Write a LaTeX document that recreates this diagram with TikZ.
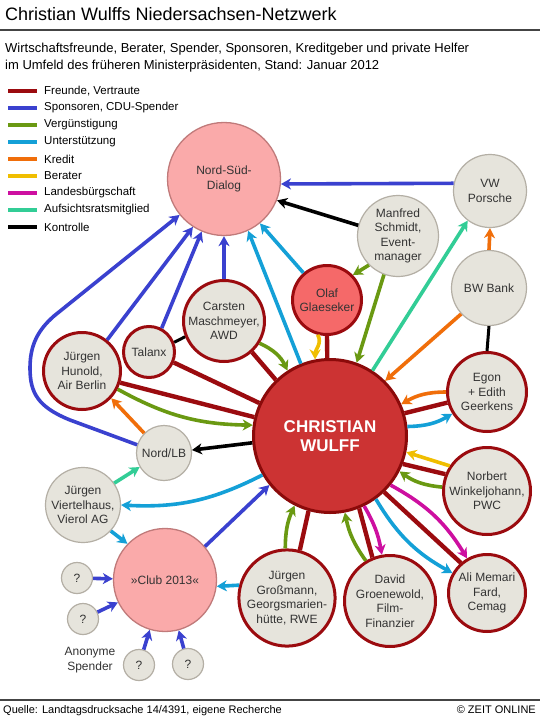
\documentclass[tikz,border=0pt]{standalone}
\usepackage{fontspec}
\setmainfont{Liberation Sans}
\usetikzlibrary{arrows.meta}
\definecolor{cFr}{HTML}{9B0B0F}
\definecolor{cBl}{HTML}{3A41CF}
\definecolor{cGr}{HTML}{6A9912}
\definecolor{cCy}{HTML}{14A0D7}
\definecolor{cOr}{HTML}{F06E0A}
\definecolor{cYe}{HTML}{F0BE00}
\definecolor{cMa}{HTML}{CD0FA0}
\definecolor{cTe}{HTML}{32CD96}
\definecolor{cBk}{HTML}{000000}
\definecolor{cGray}{HTML}{E6E4DC}
\definecolor{cGrayB}{HTML}{B4AFA5}
\definecolor{cPink}{HTML}{FAAAAA}
\definecolor{cPinkB}{HTML}{C07A7A}
\definecolor{cWulff}{HTML}{CC3333}
\definecolor{cWulffB}{HTML}{8B0A0A}
\definecolor{cOlaf}{HTML}{F56969}
\definecolor{cText}{HTML}{333333}
\definecolor{cRule}{HTML}{444444}
\begin{document}
\begin{tikzpicture}[x=1pt,y=1pt,
  nd/.style={circle,inner sep=0pt,align=center,font=\fontsize{12}{14.5}\selectfont,text=cText},
  gnode/.style={nd,fill=cGray,draw=cGrayB,line width=1.2pt},
  rnode/.style={nd,fill=cGray,draw=cFr,line width=3pt},
  pnode/.style={nd,fill=cPink,draw=cPinkB,line width=1.3pt},
  conn/.style={line width=3.6pt},
  arr/.style={conn,-{Stealth[length=10pt,width=11pt,inset=3pt]}},
  fr/.style={conn,cFr,line width=4.4pt},
  bl/.style={arr,cBl},
  gr/.style={arr,cGr},
  cy/.style={arr,cCy},
  ora/.style={arr,cOr},
  ye/.style={arr,cYe},
  ma/.style={arr,cMa},
  te/.style={arr,cTe},
  bk/.style={arr,cBk},
  lgline/.style={line width=4.5pt},
  lgtext/.style={anchor=west,font=\fontsize{11.5}{13}\selectfont,text=black,inner sep=0pt},
]
\useasboundingbox (0,0) rectangle (540,-720);
\fill[white] (0,0) rectangle (540,-720);

% title
\node[anchor=base west,inner sep=0pt,font=\fontsize{18}{20}\selectfont] (title) at (5,-20) {Christian Wulffs Niedersachsen-Netzwerk};
\draw[cRule,line width=1.2pt] (0,-30) -- (540,-30);
\node[anchor=base west,inner sep=0pt,font=\fontsize{13}{15}\selectfont] (sub1) at (5,-52) {Wirtschaftsfreunde, Berater, Spender, Sponsoren, Kreditgeber und private Helfer};
\node[anchor=base west,inner sep=0pt,font=\fontsize{13}{15}\selectfont] (sub2) at (5,-69) {im Umfeld des früheren Ministerpräsidenten, Stand: Januar 2012};

% legend
\draw[lgline,cFr] (8,-91) -- (37,-91);  \node[lgtext] (l1) at (44,-91) {Freunde, Vertraute};
\draw[lgline,cBl] (8,-108) -- (37,-108); \node[lgtext] (l2) at (44,-108) {Sponsoren, CDU-Spender};
\draw[lgline,cGr] (8,-125) -- (37,-125); \node[lgtext] (l3) at (44,-125) {Vergünstigung};
\draw[lgline,cCy] (8,-142) -- (37,-142); \node[lgtext] (l4) at (44,-142) {Unterstützung};
\draw[lgline,cOr] (8,-159) -- (37,-159); \node[lgtext] (l5) at (44,-159) {Kredit};
\draw[lgline,cYe] (8,-176) -- (37,-176); \node[lgtext] (l6) at (44,-176) {Berater};
\draw[lgline,cMa] (8,-193) -- (37,-193); \node[lgtext] (l7) at (44,-193) {Landesbürgschaft};
\draw[lgline,cTe] (8,-210) -- (37,-210); \node[lgtext] (l8) at (44,-210) {Aufsichtsratsmitglied};
\draw[lgline,cBk] (8,-227) -- (37,-227); \node[lgtext] (l9) at (44,-227) {Kontrolle};

% nodes
\node[pnode,minimum size=113pt] (nsd) at (224,-179) {Nord-Süd-\\Dialog};
\node[gnode,minimum size=73pt] (vw) at (490,-191) {VW\\Porsche};
\node[gnode,minimum size=81pt] (manfred) at (398,-236) {Manfred\\Schmidt,\\Event-\\manager};
\node[gnode,minimum size=75pt] (bw) at (489,-288) {BW Bank};
\node[rnode,fill=cOlaf,minimum size=69pt] (olaf) at (327,-300) {Olaf\\Glaeseker};
\node[rnode,minimum size=81pt] (masch) at (224,-321) {Carsten\\Maschmeyer,\\AWD};
\node[rnode,minimum size=51pt] (talanx) at (149,-352) {Talanx};
\node[rnode,minimum size=77pt] (hunold) at (82,-371) {Jürgen\\Hunold,\\Air Berlin};
\node[gnode,minimum size=55pt] (nordlb) at (164,-453) {Nord/LB};
\node[rnode,fill=cWulff,draw=cWulffB,minimum size=153pt,text=white,font=\bfseries\fontsize{17}{19}\selectfont] (wulff) at (330,-436) {CHRISTIAN\\WULFF};
\node[rnode,minimum size=79pt] (egon) at (487,-392) {Egon\\+ Edith\\Geerkens};
\node[rnode,minimum size=87pt] (norbert) at (487,-491) {Norbert\\Winkeljohann,\\PWC};
\node[rnode,minimum size=77pt] (ali) at (487,-593) {Ali Memari\\Fard,\\Cemag};
\node[rnode,minimum size=91pt] (david) at (390,-601) {David\\Groenewold,\\Film-\\Finanzier};
\node[rnode,minimum size=95pt] (gross) at (287,-598) {Jürgen\\Großmann,\\Georgsmarien-\\hütte, RWE};
\node[gnode,minimum size=75pt] (viertel) at (83,-505) {Jürgen\\Viertelhaus,\\Vierol AG};
\node[pnode,minimum size=103pt] (club) at (165,-580) {»Club 2013«};
\node[gnode,minimum size=31pt] (q1) at (77,-578) {?};
\node[gnode,minimum size=31pt] (q2) at (83,-619) {?};
\node[gnode,minimum size=31pt] (q3) at (139,-665) {?};
\node[gnode,minimum size=31pt] (q4) at (188,-664) {?};
\node[align=center,inner sep=0pt,font=\fontsize{12}{15}\selectfont,text=cText] (anon) at (90,-660) {Anonyme\\Spender};

% blue: sponsors
\draw[bl] (vw.168) -- (nsd.-5);
\draw[bl] (nordlb.163) -- (70,-420) .. controls (38,-407) and (30,-393) .. (30,-368) .. controls (30,-345) and (38,-330) .. (54,-316) -- (nsd.219);
\draw[bl] (hunold.51) -- (nsd.237);
\draw[bl] (talanx.62) -- (nsd.247);
\draw[bl] (masch.90) -- (nsd.270);
\draw[bl] (club.40) -- (wulff.219);
\draw[bl] (q1) -- (club);
\draw[bl] (q2) -- (club);
\draw[bl] (q3) -- (club);
\draw[bl] (q4) -- (club);

% cyan: support
\draw[cy] (wulff.112) -- (nsd.295);
\draw[cy] (olaf.131) -- (nsd.309);
\draw[cy] (wulff.-54) to[bend right=15] (ali.150);
\draw[cy] (wulff.7) to[bend right=15] (egon.212);
\draw[cy] (wulff.210) to[bend left=15] (viertel.0);
\draw[cy] (viertel.-43) -- (club.136);
\draw[cy] (gross.165) -- (club.-7);

% black: control
\draw[bk] (manfred.165) -- (nsd.-22);
\draw[bk] (wulff.185) -- (nordlb.6);
\draw[conn,cBk,line width=3pt] (talanx.21) -- (masch.202);
\draw[conn,cBk,line width=3pt] (bw.south) -- (egon.north);

% green
\draw[gr] (manfred.225) -- (olaf.44);
\draw[gr] (manfred.250) -- (wulff.70);
\draw[gr] (masch.-32) to[bend left=20] (wulff.123);
\draw[gr] (hunold.-27) to[bend right=14] (wulff.172);
\draw[gr] (norbert.175) to[bend left=15] (wulff.-27);
\draw[gr] (gross.92) to[bend left=12] (wulff.243);
\draw[gr] (david.121) to[bend left=12] (wulff.-79);

% orange
\draw[ora] (bw.north) -- (vw.south);
\draw[ora] (bw.223) -- (wulff.45);
\draw[ora] (egon.180) to[bend right=15] (wulff.24);
\draw[ora] (nordlb.135) -- (hunold.-43);

% yellow
\draw[ye] (olaf.255) to[out=-60,in=90] (wulff.101);
\draw[ye] (norbert.146) -- (wulff.-12);

% teal
\draw[te] (wulff.57) -- (vw.233);
\draw[te] (viertel.35) -- (nordlb.210);

% magenta
\draw[ma] (wulff.-64) to[bend left=10] (david.100);
\draw[ma] (wulff.-39) to[bend left=15] (ali.120);

% red: friends
\draw[fr] (olaf.south) -- (wulff.92);
\draw[fr] (masch.-48) -- (wulff.134);
\draw[fr] (talanx.-23) -- (wulff.155);
\draw[fr] (hunold.-17) -- (wulff.166);
\draw[fr] (egon.195) -- (wulff.17);
\draw[fr] (norbert.158) -- (wulff.-21);
\draw[fr] (gross.75) -- (wulff.254);
\draw[fr] (david.112) -- (wulff.-68);
\draw[fr] (ali.131) -- (wulff.-46);

% footer
\draw[cRule,line width=1.3pt] (0,-700) -- (540,-700);
\node[anchor=base west,inner sep=0pt,font=\fontsize{11}{13}\selectfont] (src) at (3,-713) {Quelle: Landtagsdrucksache 14/4391, eigene Recherche};
\node[anchor=base east,inner sep=0pt,font=\fontsize{11}{13}\selectfont] (copy) at (536,-713) {© ZEIT ONLINE};
\end{tikzpicture}
\end{document}
